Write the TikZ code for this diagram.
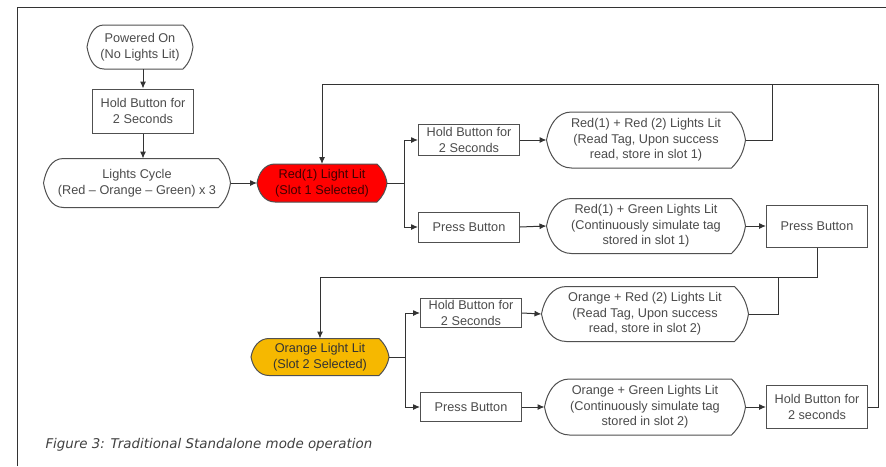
\documentclass[tikz,border=0pt]{standalone}
\usepackage{fontspec}
\setmainfont{Liberation Sans}
\newfontfamily\capfont{DejaVu Sans}
\usetikzlibrary{arrows.meta}
\usetikzlibrary{backgrounds}
\usepackage{xcolor}
\definecolor{txtgray}{RGB}{75,75,75}
\definecolor{linegray}{RGB}{80,80,80}
\definecolor{slotred}{RGB}{255,0,0}
\definecolor{slotorange}{RGB}{246,184,0}

\tikzset{
	box/.style={draw=linegray,inner sep=0pt,align=center,text=txtgray,font=\fontsize{12.7}{15.5}\selectfont},
	disp/.style={inner sep=0pt,align=center,text=txtgray,font=\fontsize{12.7}{15.5}\selectfont},
}

\begin{document}
\begin{tikzpicture}[x=1pt,y=1pt,line width=1pt,>={Latex[length=7pt,width=6pt]}]
	\useasboundingbox (0,0) rectangle (886,-466);
	\draw[black!80] (17,-466) -- (17,-7) -- (886,-7);

	\node(pwr) at (140,-47)[disp,minimum width=105pt,minimum height=43pt]{Powered On\\(No Lights Lit)};
	\node(hold0) at (143,-111)[box,minimum width=101pt,minimum height=44pt]{Hold Button for\\2 Seconds};
	\node(cyc) at (137,-183)[disp,minimum width=186pt,minimum height=48pt]{Lights Cycle\\(Red -- Orange -- Green) x 3};
	\node(red1) at (322,-183)[disp,text=black!75!red,minimum width=129pt,minimum height=37pt]{Red(1) Light Lit\\(Slot 1 Selected)};

	\node(hb1) at (469,-140)[box,minimum width=101pt,minimum height=31pt]{Hold Button for\\2 Seconds};
	\node(pb1) at (469,-227)[box,minimum width=101pt,minimum height=30pt]{Press Button};
	\node(rr1) at (646,-140)[disp,minimum width=198pt,minimum height=55pt]{Red(1) + Red (2) Lights Lit\\(Read Tag, Upon success\\read, store in slot 1)};
	\node(rg1) at (646,-226)[disp,minimum width=198pt,minimum height=54pt]{Red(1) + Green Lights Lit\\(Continuously simulate tag\\stored in slot 1)};
	\node(pbr) at (817,-226)[box,minimum width=101pt,minimum height=42pt]{Press Button};

	\node(org2) at (320,-357)[disp,text=black!80,minimum width=137pt,minimum height=36pt]{Orange Light Lit\\(Slot 2 Selected)};
	\node(hb2) at (471,-313)[box,minimum width=101pt,minimum height=29pt]{Hold Button for\\2 Seconds};
	\node(pb2) at (471,-407)[box,minimum width=101pt,minimum height=29pt]{Press Button};
	\node(or2) at (645,-314)[disp,minimum width=206pt,minimum height=54pt]{Orange + Red (2) Lights Lit\\(Read Tag, Upon success\\read, store in slot 2)};
	\node(og2) at (645,-407)[disp,minimum width=200pt,minimum height=55pt]{Orange + Green Lights Lit\\(Continuously simulate tag\\stored in slot 2)};
	\node(hb2s) at (817,-407)[box,minimum width=101pt,minimum height=43pt]{Hold Button for\\2 seconds};

	\node(cap) at (45,-445)[anchor=west,inner sep=0pt,text=black!75,font=\capfont\itshape\fontsize{13.4}{15}\selectfont]{Figure 3: Traditional Standalone mode operation};

	% display shapes behind the text
	\begin{scope}[on background layer]
		\foreach \n/\c/\r/\d in {pwr/white/17/10,cyc/white/20/12,red1/slotred/18/10,rr1/white/25/14,rg1/white/25/14,org2/slotorange/18/10,or2/white/25/14,og2/white/25/14}
			\filldraw[line width=1pt,draw=linegray,fill=\c] ([xshift=\r pt]\n.north west) -- ([xshift=-\d pt]\n.north east) to[out=-45,in=100] (\n.east) to[out=-100,in=45] ([xshift=-\d pt]\n.south east) -- ([xshift=\r pt]\n.south west) to[out=180,in=-80] (\n.west) to[out=80,in=180] cycle;
	\end{scope}

	\coordinate(br1) at (404,-183);
	\coordinate(br2) at (405,-357);
	\coordinate(top1) at (772,-84);
	\coordinate(cr) at (878,-84);
	\coordinate(lp) at (817,-277);
	\coordinate(lp2) at (778,-277);

	\draw[->,black!80] (hold0.north |- pwr.south) to (hold0.north);
	\draw[->,black!80] (hold0.south) to (hold0.south |- cyc.north);
	\draw[->,black!80] (cyc.east) to (red1.west);
	\draw[black!80] (red1.east) to (br1);
	\draw[->,black!80] (br1) |- (hb1.west);
	\draw[->,black!80] (br1) |- (pb1.west);
	\draw[->,black!80] (hb1.east) to (rr1.west);
	\draw[->,black!80] (pb1.east) to (rg1.west);
	\draw[->,black!80] (rg1.east) to (pbr.west);
	\draw[black!80] (rr1.east) -| (top1);
	\draw[->,black!80] (hb2s.east) -| (cr) -| (red1.north);

	\draw[->,black!80] (pbr.south) to (lp) -| (org2.north);
	\draw[black!80] (or2.east) -| (lp2);
	\draw[black!80] (org2.east) to (br2);
	\draw[->,black!80] (br2) |- (hb2.west);
	\draw[->,black!80] (br2) |- (pb2.west);
	\draw[->,black!80] (hb2.east) to (or2.west);
	\draw[->,black!80] (pb2.east) to (og2.west);
	\draw[->,black!80] (og2.east) to (hb2s.west);
\end{tikzpicture}
\end{document}
